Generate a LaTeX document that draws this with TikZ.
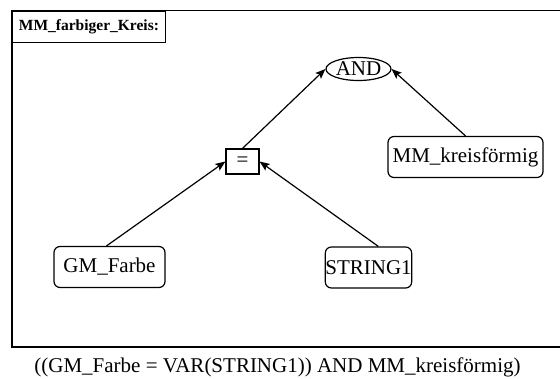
\documentclass[tikz,border=0pt]{standalone}
\usepackage{fontspec}
\setmainfont{Liberation Serif}
\usetikzlibrary{arrows.meta,shapes.geometric,calc}

\tikzset{
  termbox/.style={draw, line width=1.2pt, rounded corners=6pt, inner sep=0pt,
    minimum height=41pt, font=\fontsize{21}{24}\selectfont},
  opbox/.style={draw, line width=1.2pt, inner sep=0pt, minimum width=33pt,
    minimum height=25pt, font=\fontsize{21}{24}\selectfont},
  opellipse/.style={draw, ellipse, line width=1.2pt, inner sep=0pt, minimum width=65pt,
    minimum height=23pt, font=\fontsize{21}{24}\selectfont},
  link/.style={line width=1.2pt, -{Stealth[length=10pt,width=8pt,inset=2pt]}},
  frameline/.style={line width=1.8pt},
  titlebox/.style={draw, line width=0.9pt, inner sep=0pt, minimum width=153pt,
    minimum height=31.5pt, font=\fontsize{15.5}{18}\selectfont\bfseries},
}

\begin{document}
\begin{tikzpicture}[x=1pt, y=-1pt]
  \useasboundingbox (0,0) rectangle (560,378);
  \begin{scope}
    \clip (0,0) rectangle (560,378);
    % outer frame of the rule
    \draw[frameline] (12,10.5) rectangle (575,347);
  \end{scope}
  % rule name
  \node[titlebox, anchor=north west] (title) at (12,10.5) {MM\_farbiger\_Kreis:};

  % operators
  \node[opellipse] (and) at (358.5,69) {AND};
  \node[opbox] (eq) at (242.5,161.5) {=};

  % operands
  \node[termbox, minimum width=155pt] (mm) at (465.5,157) {MM\_kreisförmig};
  \node[termbox, minimum width=111pt] (gm) at (109.5,267) {GM\_Farbe};
  \node[termbox, minimum width=85pt] (str) at (368.5,267.5) {STRING1};

  % connectors
  \draw[link] (gm.98) -- (eq.west);
  \draw[link] (str.65) -- (eq.east);
  \draw[link] (eq.north) -- (and.west);
  \draw[link] (mm.north) -- (and.east);

  % printed expression
  \node[font=\fontsize{21}{24}\selectfont] (expr) at (277.5,367)
    {((GM\_Farbe = VAR(STRING1)) AND MM\_kreisförmig)};
\end{tikzpicture}
\end{document}
